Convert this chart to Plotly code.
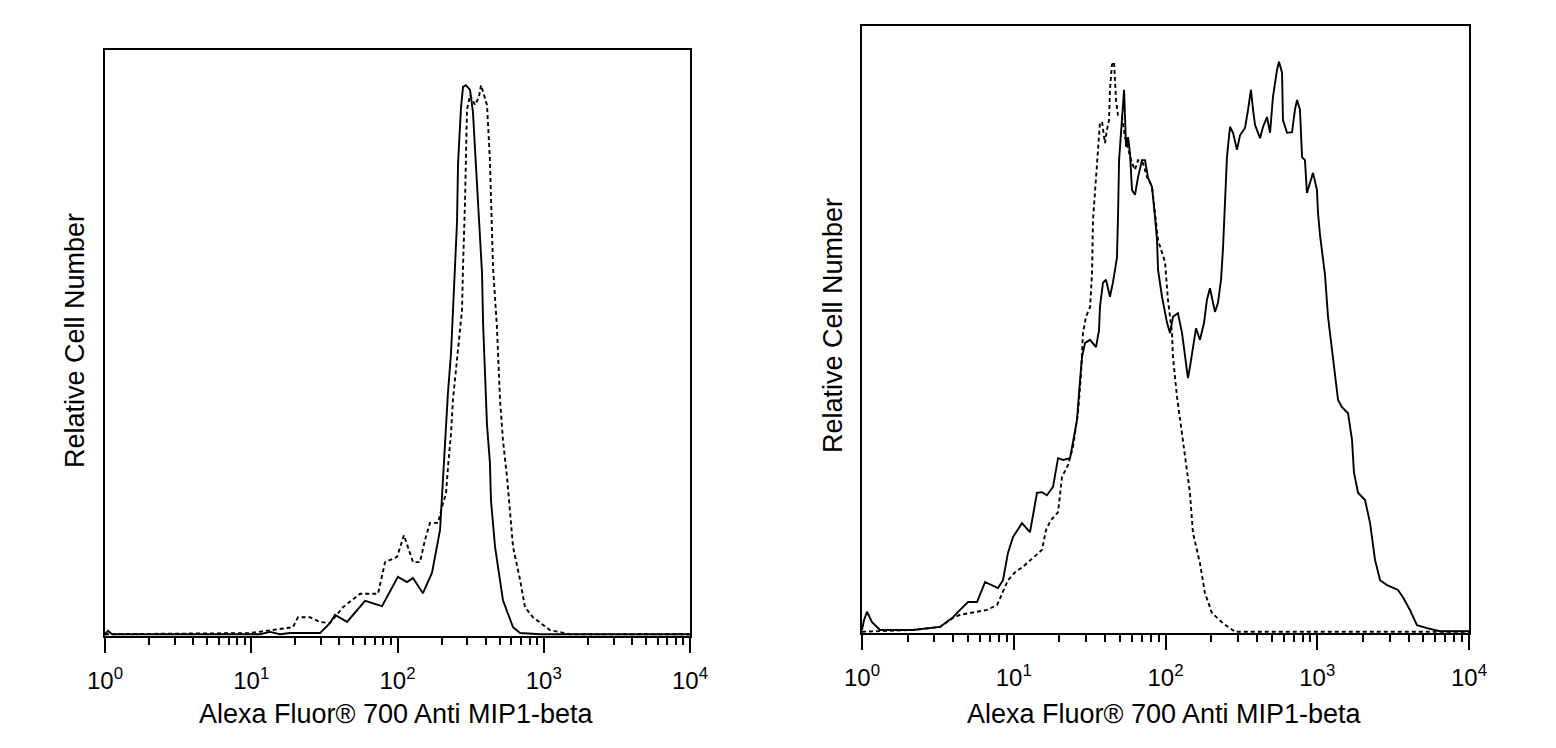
import plotly.graph_objects as go

# ---------------- data (log10 fluorescence intensity, relative cell count %) ----------------
left_solid_log = [0.000, 0.021, 0.048, 1.060, 1.128, 1.197, 1.265, 1.470, 1.538, 1.573, 1.655, 1.778,
                  1.894, 2.003, 2.065, 2.106, 2.174, 2.236, 2.291, 2.311, 2.325, 2.345, 2.366, 2.379,
                  2.393, 2.407, 2.414, 2.434, 2.448, 2.468, 2.496, 2.516, 2.537, 2.557, 2.578, 2.585,
                  2.598, 2.612, 2.632, 2.639, 2.667, 2.721, 2.790, 2.838, 2.974, 3.385, 4.000]
left_solid_cnt = [0.3, 0.9, 0.3, 0.3, 0.7, 0.3, 0.5, 0.5, 2.2, 3.6, 2.4, 6.0,
                  5.1, 10.1, 9.2, 9.9, 7.3, 10.8, 18.1, 26.6, 34.3, 41.5, 48.3, 55.1,
                  62.1, 70.6, 80.7, 90.1, 93.7, 94.0, 93.2, 89.4, 80.0, 71.0, 61.9, 53.4,
                  44.5, 36.0, 29.5, 23.2, 15.2, 6.1, 1.5, 0.5, 0.3, 0.3, 0.3]

left_dash_log = [0.000, 0.991, 1.285, 1.320, 1.402, 1.470, 1.538, 1.627, 1.744, 1.867, 1.915, 1.997,
                 2.044, 2.106, 2.154, 2.188, 2.222, 2.277, 2.304, 2.332, 2.345, 2.366, 2.379, 2.400,
                 2.414, 2.441, 2.448, 2.462, 2.475, 2.496, 2.530, 2.557, 2.571, 2.585, 2.612, 2.632,
                 2.639, 2.653, 2.680, 2.701, 2.721, 2.749, 2.790, 2.838, 2.872, 2.926, 3.043, 3.179, 4.000]
left_dash_cnt = [0.3, 0.5, 1.5, 3.2, 3.2, 2.4, 2.2, 4.9, 7.2, 7.2, 12.6, 13.5,
                 17.2, 12.6, 12.6, 16.4, 19.3, 19.3, 22.0, 24.4, 28.8, 34.6, 40.3, 45.9,
                 49.3, 55.6, 63.0, 74.4, 89.8, 92.3, 90.6, 92.0, 94.0, 92.7, 90.6, 81.2,
                 74.4, 63.0, 52.7, 40.3, 33.4, 27.1, 15.2, 9.6, 4.9, 3.2, 1.0, 0.3, 0.3]

right_solid_log = [0.000, 0.013, 0.033, 0.066, 0.119, 0.336, 0.514, 0.600, 0.646, 0.699, 0.758, 0.811,
                   0.896, 0.929, 0.962, 0.995, 1.054, 1.107, 1.153, 1.186, 1.219, 1.259, 1.292, 1.325,
                   1.371, 1.417, 1.437, 1.450, 1.470, 1.503, 1.542, 1.562, 1.568, 1.588, 1.608, 1.634,
                   1.654, 1.680, 1.687, 1.694, 1.720, 1.727, 1.740, 1.753, 1.766, 1.779, 1.799, 1.819,
                   1.845, 1.865, 1.885, 1.911, 1.931, 1.944, 1.951, 1.977, 2.010, 2.030, 2.049, 2.082,
                   2.109, 2.128, 2.148, 2.161, 2.181, 2.201, 2.227, 2.254, 2.273, 2.293, 2.326, 2.346,
                   2.366, 2.379, 2.405, 2.425, 2.445, 2.471, 2.491, 2.524, 2.544, 2.563, 2.577, 2.590,
                   2.623, 2.643, 2.669, 2.689, 2.708, 2.735, 2.748, 2.768, 2.774, 2.801, 2.834, 2.853,
                   2.867, 2.886, 2.900, 2.919, 2.932, 2.952, 2.972, 2.998, 3.005, 3.018, 3.051, 3.071,
                   3.097, 3.117, 3.137, 3.163, 3.203, 3.229, 3.242, 3.269, 3.315, 3.348, 3.381, 3.414,
                   3.460, 3.532, 3.565, 3.611, 3.657, 3.723, 3.809, 4.000]
right_solid_cnt = [0.5, 2.1, 3.5, 1.8, 0.5, 0.5, 1.0, 2.6, 3.8, 5.1, 5.1, 8.4,
                   7.4, 8.7, 13.2, 15.8, 18.1, 16.6, 23.1, 23.2, 22.7, 24.1, 28.8, 28.5,
                   28.8, 35.1, 41.7, 45.5, 47.8, 48.3, 47.1, 49.9, 53.7, 57.7, 58.2, 55.4,
                   57.8, 61.8, 68.5, 77.9, 87.0, 89.5, 80.1, 81.7, 79.1, 73.0, 72.2, 75.1,
                   77.9, 77.9, 75.0, 73.5, 68.5, 64.7, 59.8, 55.4, 51.1, 49.4, 52.1, 52.7,
                   49.4, 46.1, 42.0, 43.8, 47.1, 50.2, 48.3, 51.1, 54.9, 56.8, 52.9, 54.4,
                   58.2, 63.4, 78.4, 83.4, 82.4, 79.6, 82.0, 83.2, 86.2, 89.5, 86.2, 83.7,
                   81.5, 83.4, 85.0, 82.4, 88.3, 92.8, 94.1, 92.3, 84.5, 82.4, 82.5, 86.2,
                   87.8, 86.2, 78.4, 77.9, 72.5, 74.3, 75.8, 73.0, 69.2, 65.6, 59.0, 52.1,
                   46.6, 43.3, 38.4, 37.2, 36.2, 31.8, 26.4, 23.1, 21.9, 18.1, 12.0, 8.7,
                   7.9, 7.1, 5.9, 3.8, 1.3, 0.8, 0.3, 0.3]

right_dash_log = [0.000, 0.119, 0.336, 0.514, 0.600, 0.646, 0.712, 0.824, 0.890, 0.929, 0.962, 1.008,
                  1.061, 1.127, 1.186, 1.213, 1.245, 1.292, 1.318, 1.358, 1.390, 1.423, 1.443, 1.456,
                  1.476, 1.503, 1.516, 1.522, 1.549, 1.555, 1.568, 1.582, 1.601, 1.614, 1.628, 1.634,
                  1.647, 1.661, 1.674, 1.687, 1.713, 1.733, 1.753, 1.779, 1.799, 1.819, 1.852, 1.878,
                  1.911, 1.931, 1.951, 1.997, 2.016, 2.043, 2.049, 2.076, 2.109, 2.142, 2.161, 2.181,
                  2.227, 2.260, 2.306, 2.379, 2.458, 4.000]
right_dash_cnt = [0.2, 0.3, 0.5, 1.0, 2.5, 3.0, 3.3, 3.8, 4.6, 6.8, 8.7, 10.0,
                  10.9, 12.4, 13.7, 17.0, 18.6, 19.9, 25.7, 27.7, 30.6, 36.2, 42.5, 49.4,
                  52.1, 53.7, 59.3, 68.0, 76.6, 79.6, 84.0, 84.2, 80.7, 82.9, 84.5, 89.5,
                  93.6, 94.1, 87.8, 85.3, 85.0, 81.7, 79.6, 77.4, 76.3, 77.9, 77.4, 75.1,
                  73.5, 68.5, 64.7, 61.1, 54.9, 49.4, 45.5, 38.9, 32.9, 27.3, 23.1, 16.5,
                  11.5, 6.6, 3.3, 1.6, 0.2, 0.2]

major_ticks = [1, 10, 100, 1000, 10000]
major_labels = ["10<sup>0</sup>", "10<sup>1</sup>", "10<sup>2</sup>", "10<sup>3</sup>", "10<sup>4</sup>"]
minor_ticks = [m * d for d in (1, 10, 100, 1000) for m in range(2, 10)]
x_title = "Alexa Fluor® 700 Anti MIP1-beta"
y_title = "Relative Cell Number"

# ---------------- figure ----------------
W, H = 1556, 748
FONT = "Liberation Sans, Arial, sans-serif"

fig = go.Figure()

def line_trace(xlog, cnt, dashed, xa, ya):
    return go.Scatter(
        x=[10 ** v for v in xlog], y=cnt, mode="lines",
        line=dict(color="black", width=1.9, dash="4px,3px" if dashed else "solid"),
        xaxis=xa, yaxis=ya, showlegend=False, hoverinfo="skip")

fig.add_trace(line_trace(left_dash_log, left_dash_cnt, True, "x", "y"))
fig.add_trace(line_trace(left_solid_log, left_solid_cnt, False, "x", "y"))
fig.add_trace(line_trace(right_dash_log, right_dash_cnt, True, "x2", "y2"))
fig.add_trace(line_trace(right_solid_log, right_solid_cnt, False, "x2", "y2"))

# plot areas (pixels)
L1 = (105, 690, 50, 636)
L2 = (862, 1469, 26, 633)

def xdom(p):
    return [p[0] / W, p[1] / W]

def ydom(p):
    return [1 - p[3] / H, 1 - p[2] / H]

xaxis_common = dict(
    type="log", range=[0, 4], tickmode="array", tickvals=major_ticks, ticktext=major_labels,
    ticks="outside", ticklen=15, tickwidth=2, tickcolor="black", ticklabelstandoff=7,
    showline=True, linecolor="black", linewidth=2, mirror=True,
    showgrid=False, zeroline=False, automargin=False,
    tickfont=dict(family=FONT, size=24, color="black"),
    minor=dict(tickmode="array", tickvals=minor_ticks, ticks="outside", ticklen=7,
               tickwidth=1.5, tickcolor="black", showgrid=False),
)
yaxis_common = dict(
    range=[0, 100], showticklabels=False, ticks="", showline=True, linecolor="black",
    linewidth=2, mirror=True, showgrid=False, zeroline=False, automargin=False,
)

fig.update_layout(
    width=W, height=H,
    margin=dict(l=0, r=0, t=0, b=0),
    paper_bgcolor="white", plot_bgcolor="white",
    xaxis=dict(domain=xdom(L1), anchor="y", **xaxis_common),
    yaxis=dict(domain=ydom(L1), anchor="x", **yaxis_common),
    xaxis2=dict(domain=xdom(L2), anchor="y2", **xaxis_common),
    yaxis2=dict(domain=ydom(L2), anchor="x2", **yaxis_common),
)

ann_font = dict(family=FONT, size=27, color="black")
annotations = [
    dict(text=x_title, x=396 / W, y=1 - 714 / H, xref="paper", yref="paper",
         showarrow=False, font=ann_font, xanchor="center", yanchor="middle"),
    dict(text=x_title, x=1164 / W, y=1 - 714 / H, xref="paper", yref="paper",
         showarrow=False, font=ann_font, xanchor="center", yanchor="middle"),
    dict(text=y_title, x=75 / W, y=1 - 341 / H, xref="paper", yref="paper", textangle=-90,
         showarrow=False, font=ann_font, xanchor="center", yanchor="middle"),
    dict(text=y_title, x=833 / W, y=1 - 326 / H, xref="paper", yref="paper", textangle=-90,
         showarrow=False, font=ann_font, xanchor="center", yanchor="middle"),
]
fig.update_layout(annotations=annotations)

fig.write_html("out.html")
